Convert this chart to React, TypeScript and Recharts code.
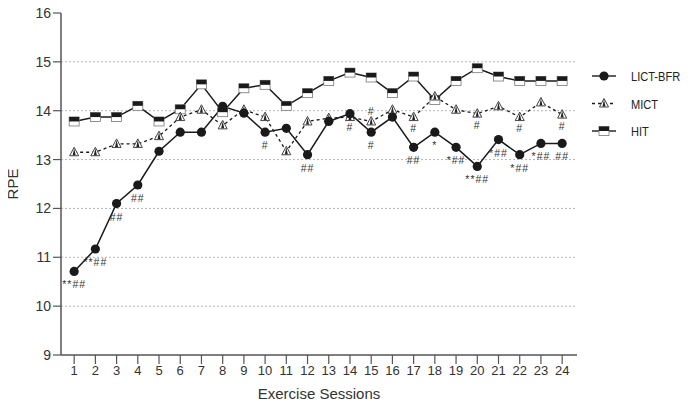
import React from 'react';
import { LineChart, Line, XAxis, YAxis, ReferenceLine, LabelList } from 'recharts';

const sessions = [1, 2, 3, 4, 5, 6, 7, 8, 9, 10, 11, 12, 13, 14, 15, 16, 17, 18, 19, 20, 21, 22, 23, 24];
const lictBfr = [10.71, 11.17, 12.1, 12.48, 13.17, 13.56, 13.56, 14.09, 13.95, 13.56, 13.64, 13.1, 13.78, 13.94, 13.56, 13.87, 13.25, 13.56, 13.25, 12.86, 13.41, 13.1, 13.33, 13.33];
const mict = [13.15, 13.15, 13.32, 13.32, 13.48, 13.87, 14.02, 13.7, 14.02, 13.87, 13.17, 13.78, 13.85, 13.87, 13.78, 14.02, 13.87, 14.29, 14.02, 13.94, 14.09, 13.87, 14.17, 13.92];
const hit = [13.78, 13.87, 13.87, 14.1, 13.78, 14.03, 14.54, 13.97, 14.46, 14.53, 14.1, 14.36, 14.61, 14.78, 14.68, 14.36, 14.7, 14.22, 14.61, 14.87, 14.7, 14.61, 14.61, 14.61];

// significance marks
const lictMarks = ['**##', '**##', '##', '##', '', '', '', '', '', '#', '', '##', '', '#', '#', '', '##', '*', '*##', '**##', '*##', '*##', '*##', '##'];
const mictMarksBelow = ['', '', '', '', '', '', '', '', '', '', '', '', '', '', '', '', '#', '', '', '#', '', '#', '', '#'];
const mictMarksAbove = ['', '', '', '', '', '', '', '', '', '', '', '', '', '', '#', '', '', '', '', '', '', '', '', ''];

const yTicks = [9, 10, 11, 12, 13, 14, 15, 16];
const gridValues = [10, 11, 12, 13, 14, 15];

const data = sessions.map((s, i) => ({
  session: s,
  lict: lictBfr[i],
  mict: mict[i],
  hit: hit[i],
  lictMark: lictMarks[i],
  mictBelow: mictMarksBelow[i],
  mictAbove: mictMarksAbove[i],
}));

const FONT = '"Liberation Sans", Arial, sans-serif';
const INK = '#1a1a1a';

const CircleDot = (p: any) => {
  if (p.cx == null || p.cy == null) return null;
  return <circle key={p.key} cx={p.cx} cy={p.cy} r={4.6} fill={INK} />;
};

const TriDot = (p: any) => {
  if (p.cx == null || p.cy == null) return null;
  const { cx, cy } = p;
  return (
    <g key={p.key}>
      <polygon points={`${cx},${cy - 5} ${cx - 4.5},${cy + 3.5} ${cx + 4.5},${cy + 3.5}`} fill="#fff" stroke="#444" strokeWidth={1} />
      <polygon points={`${cx},${cy - 4} ${cx - 1.5},${cy + 3} ${cx + 1.5},${cy + 3}`} fill="#222" />
    </g>
  );
};

const SquareDot = (p: any) => {
  if (p.cx == null || p.cy == null) return null;
  const { cx, cy } = p;
  return (
    <g key={p.key}>
      <rect x={cx - 5} y={cy - 4.5} width={10} height={9} fill="#fff" stroke="#777" strokeWidth={0.8} />
      <rect x={cx - 5} y={cy - 4.5} width={10} height={4.5} fill={INK} />
    </g>
  );
};

const markLabel = (dy: number) => (props: any) => {
  const { x, y, value } = props;
  if (!value) return null;
  return (
    <text x={x} y={y + dy} textAnchor="middle" fontSize={10.5} letterSpacing={1} fill="#333" fontFamily={FONT}>
      {value}
    </text>
  );
};

function LegendBox() {
  const rows = [
    { name: 'LICT-BFR', dash: undefined, Dot: CircleDot },
    { name: 'MICT', dash: '3 3', Dot: TriDot },
    { name: 'HIT', dash: undefined, Dot: SquareDot },
  ];
  return (
    <svg width={90} height={90} style={{ position: 'absolute', left: 592, top: 65 }}>
      {rows.map((r, i) => {
        const y = 11 + i * 27.5;
        return (
          <g key={r.name}>
            <line x1={0} x2={24} y1={y} y2={y} stroke={INK} strokeWidth={1.4} strokeDasharray={r.dash} />
            {r.Dot({ cx: 12, cy: y, key: r.name })}
            <text transform={`translate(39 ${y + 5}) scale(0.82 1)`} fontSize={13.5} fill="#222" fontFamily={FONT}>{r.name}</text>
          </g>
        );
      })}
    </svg>
  );
}

export default function App() {
  return (
    <div style={{ position: 'relative', width: 688, height: 408, margin: '-8px 0 0 -8px' }}>
      <LineChart width={688} height={408} data={data} margin={{ top: 13, right: 111, left: 8, bottom: 5 }}>
        {gridValues.map((v) => (
          <ReferenceLine key={v} y={v} stroke="#b5b5b5" strokeDasharray="2 2" strokeWidth={1} />
        ))}
        <XAxis
          dataKey="session"
          type="number"
          domain={[0.38, 24.7]}
          ticks={sessions}
          interval={0}
          tickSize={9}
          height={48}
          axisLine={{ stroke: '#555', strokeWidth: 1.5 }}
          tickLine={{ stroke: '#555', strokeWidth: 1.2 }}
          tick={{ fill: '#333', fontSize: 13, fontFamily: FONT }}
          label={{ value: 'Exercise Sessions', position: 'insideBottom', offset: 4, fill: '#333', fontSize: 15, fontFamily: FONT }}
        />
        <YAxis
          type="number"
          domain={[9, 16]}
          ticks={yTicks}
          interval={0}
          width={53}
          tickSize={8}
          axisLine={{ stroke: '#555', strokeWidth: 1.5 }}
          tickLine={{ stroke: '#555', strokeWidth: 1.2 }}
          tick={{ fill: '#333', fontSize: 14, fontFamily: FONT }}
          label={{ value: 'RPE', angle: -90, position: 'center', dx: -22, fill: '#333', fontSize: 15, fontFamily: FONT }}
        />
        <Line dataKey="hit" name="HIT" stroke={INK} strokeWidth={1.5} dot={SquareDot} isAnimationActive={false} />
        <Line dataKey="mict" name="MICT" stroke={INK} strokeWidth={1.3} strokeDasharray="3 3" dot={TriDot} isAnimationActive={false}>
          <LabelList dataKey="mictBelow" content={markLabel(15)} />
          <LabelList dataKey="mictAbove" content={markLabel(-6)} />
        </Line>
        <Line dataKey="lict" name="LICT-BFR" stroke={INK} strokeWidth={1.5} dot={CircleDot} isAnimationActive={false}>
          <LabelList dataKey="lictMark" content={markLabel(17)} />
        </Line>
      </LineChart>
      <LegendBox />
    </div>
  );
}
